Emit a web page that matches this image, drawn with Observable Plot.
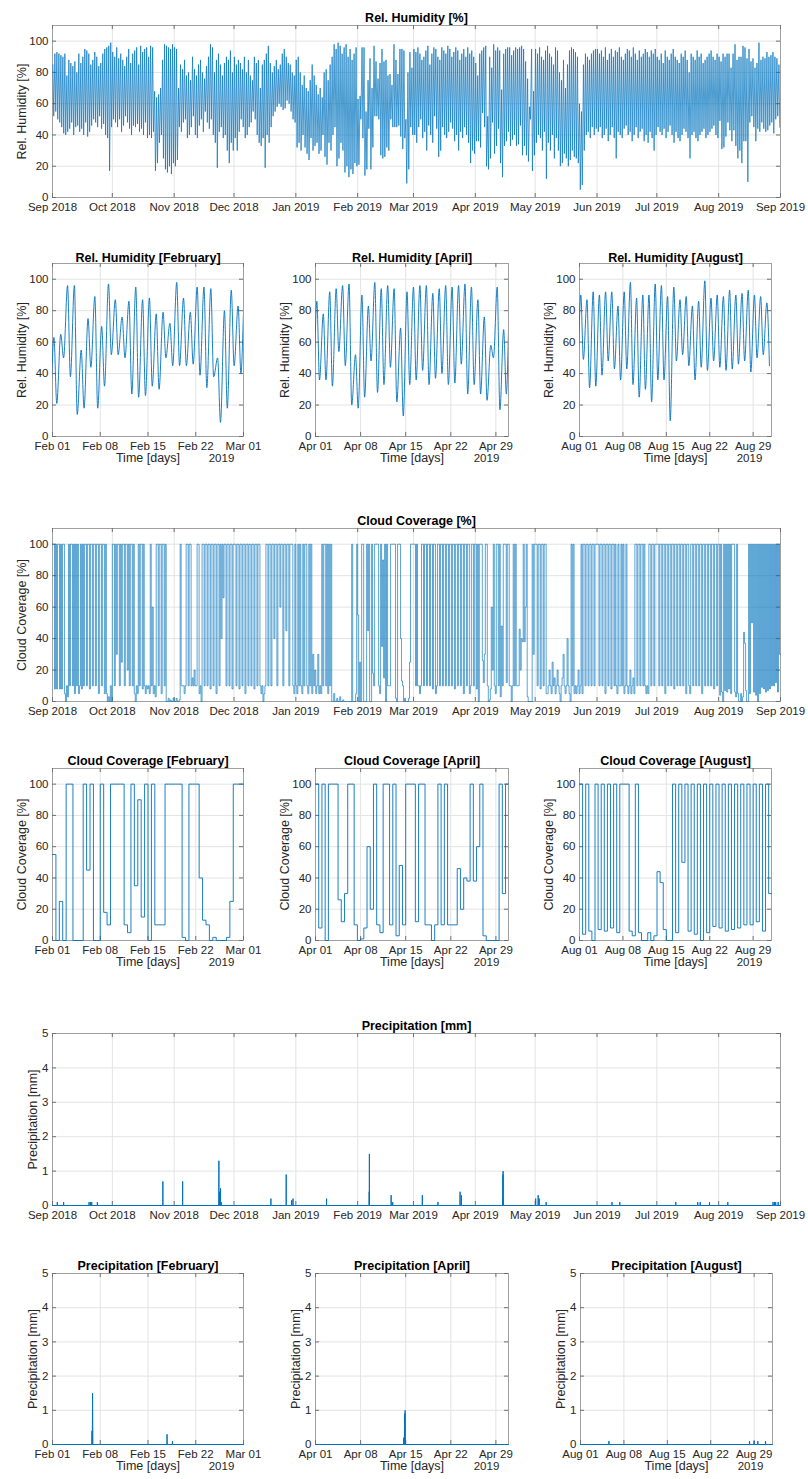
<!DOCTYPE html>
<html><head><meta charset="utf-8">
<script src="https://cdn.jsdelivr.net/npm/d3@7"></script>
<script src="https://cdn.jsdelivr.net/npm/@observablehq/plot@0.6"></script>
<style>
body{margin:0;background:#fff;}
#page{position:relative;width:808px;height:1479px;overflow:hidden;font-family:"Liberation Sans",Arial,Helvetica,sans-serif;}
#page > div{position:absolute;}
#page svg{overflow:visible;background:transparent;}
</style></head><body><div id="page"></div>
<script>
// ---------- DATA ----------
const monthKeys = ["2018-09","2018-10","2018-11","2018-12","2019-01","2019-02","2019-03","2019-04","2019-05","2019-06","2019-07","2019-08"];

// Relative humidity: daily high (early morning) and daily low (afternoon), %
const rhMaxSep18 = [85,92,93,92,91,90,92,78,88,86,84,87,80,92,86,90,95,94,92,85,88,93,90,84,86,92,95,96,97,99];
const rhMinSep18 = [52,55,50,48,45,41,40,42,44,48,40,45,46,42,44,40,48,39,42,46,50,48,45,52,44,47,40,38,17,45];
const rhMaxOct18 = [93,90,96,89,92,88,84,90,95,86,92,94,96,85,97,93,95,96,90,97,96,68,64,66,70,88,98,97,96,95,98];
const rhMinOct18 = [50,48,45,50,42,46,52,48,44,40,46,45,47,42,44,40,48,38,40,38,42,17,22,35,40,25,18,16,20,15,22];
const rhMaxNov18 = [96,95,70,85,82,88,78,80,75,90,82,78,85,88,80,76,84,90,98,96,80,88,92,85,78,86,90,88,94,80];
const rhMinNov18 = [20,24,45,42,48,50,38,40,45,52,40,38,46,50,42,55,48,44,50,40,35,19,42,45,38,40,30,22,35,30];
const rhMaxDec18 = [90,85,88,86,82,90,80,88,78,75,90,86,88,70,85,88,92,97,86,80,84,88,82,85,92,95,90,86,85,80,78];
const rhMinDec18 = [38,30,42,50,45,38,40,45,48,55,50,40,35,33,38,19,40,35,45,52,55,58,60,58,56,57,62,60,55,50,48];
const rhMaxJan19 = [88,90,80,72,78,70,68,75,85,78,72,66,70,64,80,82,75,85,90,98,95,99,97,92,96,98,90,95,88,92,96];
const rhMinJan19 = [32,35,30,40,32,28,24,38,30,33,35,28,30,40,26,21,35,30,40,45,20,25,35,30,16,20,13,18,15,22,20];
const rhMaxFeb19 = [63,65,96,96,55,75,89,70,97,87,76,86,95,87,88,78,79,72,98,88,79,95,95,94,50,80,93,83];
const rhMinFeb19 = [21,50,38,14,18,44,18,32,52,52,50,27,25,26,32,30,50,45,45,45,46,39,31,38,9,18,45,40];
const rhMaxMar19 = [95,93,96,92,88,90,94,97,85,92,96,95,90,88,96,94,92,97,95,90,93,96,94,88,92,95,90,96,92,94,90];
const rhMinMar19 = [40,35,45,50,38,42,30,46,40,35,52,44,26,30,45,40,38,42,48,44,36,40,30,42,38,45,40,35,22,30,28];
const rhMaxApr19 = [86,78,92,94,96,97,52,90,83,98,94,96,94,69,92,95,96,96,91,94,96,95,96,97,95,87,76,58,95,68];
const rhMinApr19 = [36,36,32,54,45,20,18,25,48,28,33,44,22,13,33,36,42,33,37,40,33,34,46,27,33,27,23,50,17,27];
const rhMaxMay19 = [95,92,96,90,88,94,97,92,90,85,96,94,80,75,88,70,85,94,96,95,93,90,60,55,85,92,90,88,92,94,95];
const rhMinMay19 = [35,40,38,30,42,12,35,30,40,25,38,30,20,22,28,25,20,24,30,26,25,22,5,8,30,40,42,38,45,40,44];
const rhMaxJun19 = [95,92,94,90,96,88,92,95,90,94,93,96,90,88,92,95,94,90,96,92,88,94,90,92,95,93,90,94,92,95];
const rhMinJun19 = [42,45,38,40,44,36,40,45,38,25,42,40,38,44,46,40,42,36,40,45,38,42,44,36,40,35,42,38,30,40];
const rhMaxJul19 = [90,88,92,86,94,90,88,92,95,90,88,86,92,90,94,88,80,92,90,88,94,90,92,86,88,90,92,94,90,88,92];
const rhMinJul19 = [45,42,40,44,38,42,46,40,35,42,38,36,40,44,42,38,25,40,42,38,36,40,42,44,38,40,42,44,46,40,38];
const rhMaxAug19 = [90,87,92,90,92,92,83,92,98,88,90,90,97,96,89,95,87,89,83,86,99,88,90,89,93,90,91,93,90,89,85];
const rhMinAug19 = [49,31,32,39,48,43,36,43,33,25,30,22,36,36,10,48,52,45,36,44,42,48,44,42,43,46,48,41,50,52,45];

// Cloud coverage: one value per half day (00-12h, 12-24h), %
const cloudSep18 = [100,100,8,100,8,100,100,8,100,8,100,100,5,0,10,3,100,10,100,100,10,100,5,100,10,100,5,10,100,8,100,10,100,100,10,100,100,8,100,100,10,100,100,10,100,100,5,100,100,10,100,100,5,100,5,0,3,0,10,0];
const cloudOct18 = [100,100,10,100,30,100,100,10,100,25,100,100,10,100,100,20,100,10,100,100,10,100,5,0,10,5,100,10,100,100,8,100,10,5,10,8,10,5,100,10,60,5,10,3,100,100,10,100,100,5,100,100,10,100,0,0,2,0,1,0,0,2];
const cloudNov18 = [0,0,2,0,0,1,100,10,10,10,5,10,100,100,10,100,100,10,15,10,20,10,10,100,100,5,10,0,100,100,10,100,100,10,100,100,8,100,100,10,100,100,5,100,100,10,100,40,100,66,100,100,10,100,100,10,100,100,8,100];
const cloudDec18 = [100,100,10,100,100,8,100,100,10,100,100,5,100,100,10,100,100,10,100,100,8,100,100,10,100,100,10,5,10,0,5,10,100,100,10,100,100,10,100,100,40,100,100,10,100,100,60,100,100,10,100,100,45,100,100,10,100,100,100,10,5,100];
const cloudJan19 = [10,5,100,10,100,10,5,100,10,100,100,10,5,100,10,100,5,30,10,20,5,10,30,5,10,5,100,10,100,100,10,100,5,100,10,100,0,0,5,0,0,2,0,0,3,0,0,1,0,0,0,0,0,0,0,0,100,0,0,0,5,100];
const cloudFeb19 = [55,0,25,0,100,100,0,0,0,100,45,100,0,0,100,18,10,100,100,100,100,10,5,100,35,90,15,100,0,100,10,10,10,100,100,100,100,100,2,0,100,100,100,40,13,10,0,2,0,0,0,2,25,100,100,100];
const cloudMar19 = [100,100,10,100,10,10,5,10,100,100,10,100,100,10,100,100,10,100,100,8,100,100,5,10,100,100,10,100,100,10,100,100,10,100,100,10,100,100,10,100,100,8,100,100,10,100,100,10,100,100,5,100,100,10,100,100,5,10,100,100,10,100];
const cloudApr19 = [100,8,100,0,100,100,100,26,12,30,100,100,10,0,1,8,60,20,100,10,5,100,100,10,100,3,48,10,100,100,100,12,100,100,10,10,0,10,100,10,100,10,10,10,46,20,40,38,100,38,60,100,3,0,0,0,0,100,30,100];
const cloudMay19 = [100,100,10,100,100,8,100,100,10,100,100,5,5,10,20,10,5,25,10,15,5,10,20,10,5,0,10,15,30,10,5,10,40,10,5,0,100,10,100,5,10,5,10,20,5,10,100,5,100,100,10,100,100,10,100,100,10,100,100,10,100,100];
const cloudJun19 = [100,100,10,100,100,10,100,100,5,100,100,10,100,100,8,100,100,10,100,10,5,100,10,10,100,10,100,5,10,100,10,5,10,20,5,10,15,5,100,100,10,100,100,10,100,100,10,100,10,5,10,5,100,100,10,100,100,10,100,100];
const cloudJul19 = [100,100,10,100,100,10,100,100,5,100,100,10,100,100,10,100,100,8,100,100,10,100,100,10,100,100,10,100,100,5,100,100,10,5,100,100,10,100,100,10,100,100,10,100,100,5,100,100,10,100,100,10,100,100,10,100,100,8,100,100,10,100];
const cloudAug19 = [100,4,100,6,0,100,7,100,6,100,8,100,5,100,100,100,6,3,100,5,0,0,5,0,3,44,37,7,0,0,100,5,100,50,100,6,100,4,100,0,100,5,100,9,100,8,100,6,100,7,100,8,100,10,100,10,100,12,100,6,100,30];

// Precipitation events (hour, mm); all other hours are 0
const precipTimes = ["2018-09-03T10","2018-09-06T14","2018-09-19T08","2018-09-20T02","2018-09-20T16","2018-09-23T12","2018-10-26T08","2018-11-05T06","2018-11-23T10","2018-11-23T20","2018-11-24T06","2018-11-24T14","2018-12-19T12","2018-12-27T04","2018-12-29T20","2018-12-30T14","2019-01-16T10","2019-02-06T19","2019-02-06T21","2019-02-17T19","2019-02-18T14","2019-03-05T10","2019-03-13T06","2019-03-24T08","2019-03-25T00","2019-04-14T17","2019-04-14T20","2019-04-14T22","2019-05-01T06","2019-05-02T12","2019-05-03T00","2019-05-06T12","2019-06-08T12","2019-06-12T10","2019-07-10T12","2019-07-21T12","2019-07-22T18","2019-07-27T10","2019-08-05T14","2019-08-28T06","2019-08-29T00","2019-08-29T14","2019-08-30T20"];
const precipValues = [0.1,0.1,0.1,0.1,0.1,0.1,0.7,0.7,1.3,0.4,0.5,0.1,0.2,0.9,0.15,0.2,0.2,0.4,1.5,0.3,0.1,0.3,0.1,0.4,0.3,0.2,0.9,1.0,0.2,0.3,0.2,0.1,0.1,0.1,0.1,0.1,0.1,0.1,0.1,0.1,0.1,0.1,0.1];

// Axis ticks
const yearTicks = ["2018-09-01","2018-10-01","2018-11-01","2018-12-01","2019-01-01","2019-02-01","2019-03-01","2019-04-01","2019-05-01","2019-06-01","2019-07-01","2019-08-01","2019-09-01"];
const febTicks = ["2019-02-01","2019-02-08","2019-02-15","2019-02-22","2019-03-01"];
const aprTicks = ["2019-04-01","2019-04-08","2019-04-15","2019-04-22","2019-04-29"];
const augTicks = ["2019-08-01","2019-08-08","2019-08-15","2019-08-22","2019-08-29"];
const pctTicks = [0,20,40,60,80,100];
const mmTicks = [0,1,2,3,4,5];

// ---------- BUILD SERIES ----------
const HOUR = 3600e3;
const U = s => new Date(s + (s.length <= 10 ? "T00:00:00Z" : (s.length === 13 ? ":00:00Z" : "Z")));
const rhMax = [rhMaxSep18,rhMaxOct18,rhMaxNov18,rhMaxDec18,rhMaxJan19,rhMaxFeb19,rhMaxMar19,rhMaxApr19,rhMaxMay19,rhMaxJun19,rhMaxJul19,rhMaxAug19];
const rhMin = [rhMinSep18,rhMinOct18,rhMinNov18,rhMinDec18,rhMinJan19,rhMinFeb19,rhMinMar19,rhMinApr19,rhMinMay19,rhMinJun19,rhMinJul19,rhMinAug19];
const cloudHalf = [cloudSep18,cloudOct18,cloudNov18,cloudDec18,cloudJan19,cloudFeb19,cloudMar19,cloudApr19,cloudMay19,cloudJun19,cloudJul19,cloudAug19];

const rh = [];
monthKeys.forEach((m, i) => {
  const [y, mo] = m.split("-").map(Number);
  rhMax[i].forEach((v, d) => {
    rh.push({t: new Date(Date.UTC(y, mo - 1, d + 1, 5)), v});
    rh.push({t: new Date(Date.UTC(y, mo - 1, d + 1, 15)), v: rhMin[i][d]});
  });
});
const cloud = [];
monthKeys.forEach((m, i) => {
  const [y, mo] = m.split("-").map(Number);
  cloudHalf[i].forEach((v, h) => cloud.push({t: new Date(Date.UTC(y, mo - 1, 1) + h * 12 * HOUR), v}));
});
const precipMap = new Map(precipTimes.map((s, i) => [+U(s), precipValues[i]]));
const precipEvents = [...precipMap.keys()].sort((a, b) => a - b);
function precipSeries(start, end) {
  const keys = new Set([+start, +end]);
  for (const k of precipEvents) { keys.add(k - HOUR); keys.add(k); keys.add(k + HOUR); }
  return [...keys].filter(k => k >= +start && k <= +end).sort((a, b) => a - b)
    .map(k => ({t: new Date(k), v: precipMap.get(k) ?? 0}));
}
function stepSeries(series, start, end) {
  const pts = series.filter(d => d.t >= start && d.t < end);
  const before = series.filter(d => d.t < end);
  pts.push({t: end, v: before[before.length - 1].v});
  return pts;
}
function smoothSeries(series, start, end) {
  const pad = 30 * HOUR;
  return series.filter(d => +d.t >= +start - pad && +d.t <= +end + pad);
}

// ---------- DRAW ----------
const BLUE = "#0072BD";
const FONT = '"Liberation Sans", Arial, Helvetica, sans-serif';
const page = document.getElementById("page");

function panel(c) {
  const padL = 60, padR = 30, padT = 36, padB = 44;
  const innerW = c.fx1 - c.fx0, innerH = c.fy1 - c.fy0;
  const W = innerW + padL + padR, H = innerH + padT + padB;
  const xt = c.xTicks.map(U);
  const marks = [
    Plot.gridX(xt, {stroke: "#e3e3e3", strokeOpacity: 1}),
    Plot.gridY(c.yTicks, {stroke: "#e3e3e3", strokeOpacity: 1}),
    Plot.frame({stroke: "#a0a0a0"}),
    Plot.tickX(xt, {x: d => d, insetTop: innerH - 4, stroke: "#707070"}),
    Plot.tickX(xt, {x: d => d, insetBottom: innerH - 4, stroke: "#707070"}),
    Plot.tickY(c.yTicks, {y: d => d, insetRight: innerW - 4, stroke: "#707070"}),
    Plot.tickY(c.yTicks, {y: d => d, insetLeft: innerW - 4, stroke: "#707070"}),
    Plot.line(c.data, {x: "t", y: "v", stroke: BLUE, strokeWidth: c.sw, curve: c.curve, clip: c.clip}),
    Plot.axisX({ticks: xt, tickSize: 0, tickPadding: 5, tickFormat: d3.utcFormat(c.fmt), fill: "#262626", fontSize: 11.5, label: null}),
    Plot.axisY({ticks: c.yTicks, tickSize: 0, tickPadding: 4, tickFormat: d3.format("d"), fill: "#262626", fontSize: 11.5, label: null}),
    Plot.text([c.title], {text: d => d, frameAnchor: "top", dy: c.titleDy ?? -12, fontWeight: "bold", fontSize: 12.5, fill: "#000"}),
    Plot.text([c.ylabel], {text: d => d, frameAnchor: "left", textAnchor: "middle", rotate: -90, dx: c.ylDx, fontSize: 12.5, fill: "#262626"})
  ];
  if (c.xlabel) {
    marks.push(Plot.text([c.xlabel], {text: d => d, frameAnchor: "bottom", dy: 25, fontSize: 12.5, fill: "#262626"}));
    marks.push(Plot.text(["2019"], {text: d => d, frameAnchor: "bottom-right", textAnchor: "middle", dx: -22, dy: 25, fontSize: 11.5, fill: "#262626"}));
  }
  const svg = Plot.plot({
    width: W, height: H,
    marginLeft: padL, marginRight: padR, marginTop: padT, marginBottom: padB,
    style: {fontFamily: FONT, fontSize: "11.5px", background: "transparent", overflow: "visible"},
    x: {type: "utc", domain: c.xDomain.map(U)},
    y: {domain: c.yDomain},
    marks
  });
  const div = document.createElement("div");
  div.style.left = (c.fx0 - padL) + "px";
  div.style.top = (c.fy0 - padT) + "px";
  div.style.width = W + "px";
  div.style.height = H + "px";
  div.appendChild(svg);
  page.appendChild(div);
}

const yearDomain = ["2018-09-01", "2019-09-01"];
const months3 = [
  {name: "February", fx0: 52, fx1: 243, dom: ["2019-02-01", "2019-03-01"], ticks: febTicks},
  {name: "April", fx0: 315, fx1: 508, dom: ["2019-04-01", "2019-04-30T23"], ticks: aprTicks},
  {name: "August", fx0: 579, fx1: 771, dom: ["2019-08-01", "2019-08-31T23"], ticks: augTicks}
];

// Row 1: humidity full year
panel({fx0: 52, fx1: 780, fy0: 25, fy1: 197, data: rh, curve: "linear", sw: 0.7, clip: true,
  xDomain: yearDomain, xTicks: yearTicks, fmt: "%b %Y", yDomain: [0, 110], yTicks: pctTicks,
  title: "Rel. Humidity [%]", ylabel: "Rel. Humidity [%]", ylDx: -31});
// Row 2: humidity months
months3.forEach(m => {
  const [s, e] = m.dom.map(U);
  panel({fx0: m.fx0, fx1: m.fx1, fy0: 263, fy1: 436, data: smoothSeries(rh, s, e), curve: "monotone-x", sw: 0.9, clip: true,
    xDomain: m.dom, xTicks: m.ticks, fmt: "%b %d", yDomain: [0, 110], yTicks: pctTicks,
    title: `Rel. Humidity [${m.name}]`, ylabel: "Rel. Humidity [%]", ylDx: -31, titleDy: -10, xlabel: "Time [days]"});
});
// Row 3: cloud full year
panel({fx0: 52, fx1: 780, fy0: 528, fy1: 701, data: stepSeries(cloud, U(yearDomain[0]), U(yearDomain[1])), curve: "step-after", sw: 0.65, clip: false,
  xDomain: yearDomain, xTicks: yearTicks, fmt: "%b %Y", yDomain: [0, 110], yTicks: pctTicks,
  title: "Cloud Coverage [%]", ylabel: "Cloud Coverage [%]", ylDx: -31});
// Row 4: cloud months
months3.forEach(m => {
  const [s, e] = m.dom.map(U);
  panel({fx0: m.fx0, fx1: m.fx1, fy0: 768, fy1: 940, data: stepSeries(cloud, s, e), curve: "step-after", sw: 0.9, clip: false,
    xDomain: m.dom, xTicks: m.ticks, fmt: "%b %d", yDomain: [0, 110], yTicks: pctTicks,
    title: `Cloud Coverage [${m.name}]`, ylabel: "Cloud Coverage [%]", ylDx: -31, xlabel: "Time [days]"});
});
// Row 5: precipitation full year
panel({fx0: 52, fx1: 780, fy0: 1033, fy1: 1205, data: precipSeries(U(yearDomain[0]), U(yearDomain[1])), curve: "linear", sw: 1, clip: false,
  xDomain: yearDomain, xTicks: yearTicks, fmt: "%b %Y", yDomain: [0, 5], yTicks: mmTicks,
  title: "Precipitation [mm]", ylabel: "Precipitation [mm]", ylDx: -20});
// Row 6: precipitation months
months3.forEach((m, i) => {
  const [s, e] = m.dom.map(U);
  const fx0 = i === 2 ? 580 : m.fx0, fx1 = i === 2 ? 772 : m.fx1;
  panel({fx0, fx1, fy0: 1273, fy1: 1444, data: precipSeries(s, e), curve: "linear", sw: 1, clip: false,
    xDomain: m.dom, xTicks: m.ticks, fmt: "%b %d", yDomain: [0, 5], yTicks: mmTicks,
    title: `Precipitation [${m.name}]`, ylabel: "Precipitation [mm]", ylDx: -20, xlabel: "Time [days]"});
});
</script></body></html>
